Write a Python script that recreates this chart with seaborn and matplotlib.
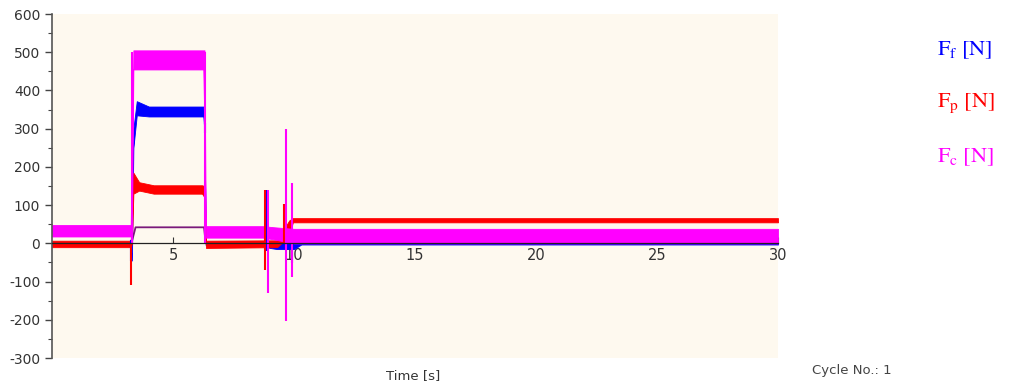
import numpy as np
import matplotlib
matplotlib.use('Agg')
import matplotlib.pyplot as plt
from matplotlib.ticker import MultipleLocator
import seaborn as sns

# envelopes of the noisy force traces: time [s], lower, upper [N]
t_ff = [0, 3.24, 3.3, 3.36, 3.5, 4.0, 6.25, 6.3, 6.35, 8.7, 9.0, 9.3, 10.0, 10.3, 30]
ff_lo = [-5, -5, -45, 250, 335, 332, 332, 290, -5, -5, -12, -15, -15, -3, -3]
ff_hi = [3, 3, 40, 300, 372, 358, 358, 310, 3, 3, 3, 0, 0, 2, 2]

t_fp = [0, 3.25, 3.3, 3.36, 3.6, 4.2, 6.2, 6.3, 6.36, 9.3, 9.8, 9.95, 30]
fp_lo = [-10, -10, 0, 130, 138, 130, 130, 120, -12, -10, 20, 55, 55]
fp_hi = [7, 7, 60, 185, 160, 152, 152, 150, 7, 8, 60, 66, 66]

t_fc = [0, 3.25, 3.3, 3.36, 6.25, 6.3, 6.35, 8.7, 9.2, 10.0, 30]
fc_lo = [18, 18, 30, 455, 455, 300, 15, 15, 10, 0, 0]
fc_hi = [48, 48, 250, 505, 505, 505, 45, 45, 42, 38, 38]

# single spikes: time, min, max
ff_spk_t = [3.28, 6.3, 8.84, 9.93]
ff_spk_lo = [-45, 290, -20, -52]
ff_spk_hi = [10, 315, 139, 0]
fp_spk_t = [3.28, 8.8, 9.6]
fp_spk_lo = [-110, -70, 0]
fp_spk_hi = [0, 140, 104]
fc_spk_t = [3.3, 6.3, 8.94, 9.68, 9.93]
fc_spk_lo = [0, 0, -131, -202, -89]
fc_spk_hi = [500, 500, 139, 298, 157]

# fourth (unnamed) channel
t_d = [0, 3.28, 3.45, 6.28, 6.35, 30]
d_val = [0, 0, 42, 42, 0, 0]

blue = '#0000FF'
red = '#FF0000'
magenta = '#FF00FF'

sns.set_style('ticks')
plt.rcParams['font.family'] = ['DejaVu Sans']
plt.rcParams['mathtext.fontset'] = 'stix'
plt.rcParams['axes.unicode_minus'] = False

fig = plt.figure(figsize=(10.21, 3.9), dpi=100)
ax = fig.add_axes([0.051, 0.082, 0.711, 0.882])
ax.set_facecolor('#FEF9EF')
ax.set_axisbelow(True)

ax.fill_between(t_ff, ff_lo, ff_hi, color=blue, lw=0.6, zorder=2)
ax.fill_between(t_fp, fp_lo, fp_hi, color=red, lw=0.6, zorder=2)
ax.fill_between(t_fc, fc_lo, fc_hi, color=magenta, lw=0.6, zorder=2)

ax.vlines(ff_spk_t, ff_spk_lo, ff_spk_hi, color=blue, lw=1.5, zorder=2)
ax.vlines(fp_spk_t, fp_spk_lo, fp_spk_hi, color=red, lw=1.5, zorder=2)
ax.vlines(fc_spk_t, fc_spk_lo, fc_spk_hi, color=magenta, lw=1.5, zorder=2)

sns.lineplot(x=t_d, y=d_val, color='#7A1A7A', lw=1.3, ax=ax, zorder=1.5)

ax.set_xlim(0, 30)
ax.set_ylim(-300, 600)
ax.spines['top'].set_visible(False)
ax.spines['right'].set_visible(False)
ax.spines['bottom'].set_position(('data', 0))
ax.spines['bottom'].set_color('#222222')
ax.spines['bottom'].set_linewidth(0.9)
ax.spines['left'].set_color('#555555')
ax.spines['left'].set_linewidth(1.2)

ax.set_xticks([5, 10, 15, 20, 25, 30])
ax.yaxis.set_major_locator(MultipleLocator(100))
ax.yaxis.set_minor_locator(MultipleLocator(50))
ax.tick_params(axis='x', direction='in', length=4, width=0.8, pad=3,
               labelsize=10.5, labelcolor='#333333', color='#333333')
ax.tick_params(axis='y', which='major', direction='out', length=5, width=1,
               labelsize=10, labelcolor='#333333', color='#444444')
ax.tick_params(axis='y', which='minor', direction='out', length=3, width=0.8,
               color='#444444')

fig.text(0.405, 0.036, 'Time [s]', ha='center', va='center', fontsize=9.5, color='#333333')
fig.text(0.795, 0.051, 'Cycle No.: 1', ha='left', va='center', fontsize=9.5, color='#444444')

fig.text(0.918, 0.872, r'$\mathrm{F_f\ [N]}$', color=blue, fontsize=16, va='center')
fig.text(0.918, 0.736, r'$\mathrm{F_p\ [N]}$', color=red, fontsize=16, va='center')
fig.text(0.918, 0.597, r'$\mathrm{F_c\ [N]}$', color=magenta, fontsize=16, va='center')

fig.savefig('out.png', dpi=100)
